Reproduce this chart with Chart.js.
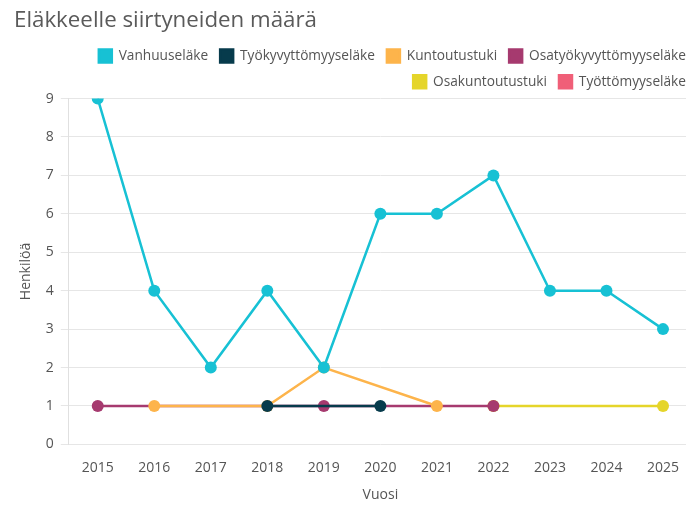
<!DOCTYPE html>
<html lang="fi">
<head>
  <meta charset="UTF-8" />
  <title>Eläkkeelle siirtyneiden määrä</title>
  <script src="https://cdn.jsdelivr.net/npm/chart.js"></script>
  <style>
    body {
      margin: 0;
      background: #ffffff;
      overflow: hidden;
    }
    #wrap {
      width: 686px;
      height: 511px;
      overflow: hidden;
    }
  </style>
</head>
<body>
  <div id="wrap"><canvas id="chart" width="698" height="511"></canvas></div>

  <script>
    const years = [2015, 2016, 2017, 2018, 2019, 2020, 2021, 2022, 2023, 2024, 2025];

    const vanhuuselake = [9, 4, 2, 4, 2, 6, 6, 7, 4, 4, 3];
    const tyokyvyttomyyselake = [null, null, null, 1, null, 1, null, null, null, null, null];
    const kuntoutustuki = [null, 1, null, 1, 2, null, 1, null, null, null, null];
    const osatyokyvyttomyyselake = [1, null, null, null, 1, null, null, 1, null, null, null];
    const osakuntoutustuki = [null, null, null, null, null, null, null, 1, null, null, 1];
    const tyottomyyselake = [null, null, null, null, null, null, null, null, null, null, null];

    const seriesNames = ['Vanhuuseläke', 'Työkyvyttömyyseläke', 'Kuntoutustuki',
      'Osatyökyvyttömyyseläke', 'Osakuntoutustuki', 'Työttömyyseläke'];
    const seriesValues = [vanhuuselake, tyokyvyttomyyselake, kuntoutustuki,
      osatyokyvyttomyyselake, osakuntoutustuki, tyottomyyselake];
    const seriesColors = ['#17c1d4', '#073b4c', '#fdb44b', '#a63a6f', '#e5d52a', '#f05f78'];

    const textColor = '#555555';
    const font = "'Open Sans', 'DejaVu Sans', sans-serif";

    const datasets = seriesNames.map((name, i) => ({
      label: name,
      data: years.map((yr, j) => ({ x: yr, y: seriesValues[i][j] })),
      borderColor: seriesColors[i],
      backgroundColor: seriesColors[i],
      pointBackgroundColor: seriesColors[i],
      pointBorderColor: seriesColors[i],
      borderWidth: 2.5,
      pointRadius: 6,
      pointBorderWidth: 0,
      spanGaps: true,
      tension: 0
    }));

    new Chart(document.getElementById('chart'), {
      type: 'line',
      data: { datasets: datasets },
      options: {
        responsive: false,
        animation: false,
        layout: { padding: { left: 14, right: 0, top: 0, bottom: 4 } },
        plugins: {
          title: {
            display: true,
            text: 'Eläkkeelle siirtyneiden määrä',
            align: 'start',
            color: '#5a5a5a',
            font: { family: font, size: 22.3, weight: 'normal' },
            padding: { top: 7, bottom: 3.4 }
          },
          legend: {
            align: 'end',
            labels: {
              color: textColor,
              boxWidth: 13,
              boxHeight: 13,
              padding: 12,
              font: { family: font, size: 13.7 }
            }
          },
          tooltip: { enabled: false }
        },
        scales: {
          x: {
            type: 'linear',
            min: 2014.488,
            max: 2025.513,
            grid: { display: false },
            border: { display: false },
            title: {
              display: true,
              text: 'Vuosi',
              color: textColor,
              padding: { top: 3, bottom: 4 },
              font: { family: font, size: 14 }
            },
            ticks: {
              stepSize: 1,
              includeBounds: false,
              autoSkip: false,
              maxRotation: 0,
              color: textColor,
              padding: 7,
              font: { family: font, size: 14 },
              callback: v => String(v)
            }
          },
          y: {
            min: 0,
            max: 9,
            grid: { color: '#e6e6e6', tickLength: 8 },
            border: { color: '#e0e0e0' },
            title: {
              display: true,
              text: 'Henkilöä',
              color: textColor,
              font: { family: font, size: 14 }
            },
            ticks: {
              stepSize: 1,
              color: textColor,
              padding: 7,
              font: { family: font, size: 14 }
            }
          }
        }
      }
    });
  </script>
</body>
</html>
